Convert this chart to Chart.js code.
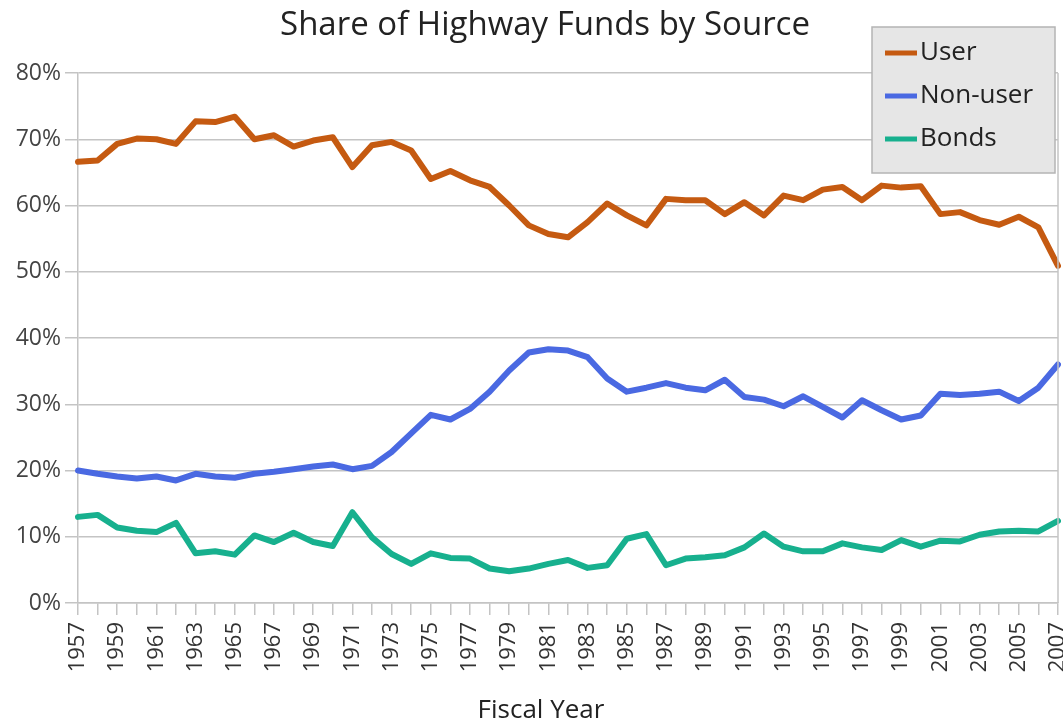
<!DOCTYPE html>
<html><head><meta charset="utf-8">
<script src="https://cdn.jsdelivr.net/npm/chart.js@4/dist/chart.umd.min.js"></script>
<style>html,body{margin:0;padding:0;background:#fff}#wrap{width:1063px;height:725px}</style>
</head><body><div id="wrap"><canvas id="c" width="1063" height="725"></canvas></div>
<script>
const years = [];
for (let y = 1957; y <= 2007; y++) years.push(String(y));
const userShare = [66.6,66.8,69.3,70.1,70.0,69.3,72.7,72.6,73.4,70.0,70.6,68.9,69.8,70.3,65.8,69.1,69.6,68.3,64.0,65.2,63.8,62.8,60.0,57.0,55.7,55.2,57.5,60.3,58.5,57.0,61.0,60.8,60.8,58.7,60.5,58.5,61.5,60.8,62.4,62.8,60.8,63.0,62.7,62.9,58.7,59.0,57.8,57.1,58.3,56.7,50.9];
const nonUserShare = [20.0,19.5,19.1,18.8,19.1,18.5,19.5,19.1,18.9,19.5,19.8,20.2,20.6,20.9,20.2,20.7,22.8,25.6,28.4,27.7,29.3,31.9,35.1,37.8,38.3,38.1,37.1,33.9,31.9,32.5,33.2,32.5,32.1,33.7,31.1,30.7,29.7,31.2,29.6,28.0,30.6,29.1,27.7,28.3,31.6,31.4,31.6,31.9,30.5,32.5,36.0];
const bondsShare = [13.0,13.3,11.4,10.9,10.7,12.1,7.5,7.8,7.3,10.2,9.2,10.6,9.2,8.6,13.7,9.9,7.4,5.9,7.5,6.8,6.7,5.2,4.8,5.2,5.9,6.5,5.3,5.7,9.7,10.4,5.7,6.7,6.9,7.2,8.4,10.5,8.5,7.8,7.8,9.0,8.4,8.0,9.5,8.5,9.4,9.3,10.3,10.8,10.9,10.8,12.4];
const seriesNames = ["User","Non-user","Bonds"];
const yTicks = [0,10,20,30,40,50,60,70,80];
const chartTitle = 'Share of Highway Funds by Source';
const xTitle = 'Fiscal Year';

const FONT = "'Open Sans', sans-serif";
const colors = ["#C55A11","#4A69E2","#17B08E"];

const decorations = {
  id: 'decorations',
  afterDraw(chart) {
    const ctx = chart.ctx;
    const ca = chart.chartArea;
    ctx.save();
    // titles
    ctx.fillStyle = '#222';
    ctx.font = "33px " + FONT;
    ctx.textAlign = 'center';
    ctx.textBaseline = 'middle';
    ctx.fillText(chartTitle, 545, 26);
    ctx.font = "26px " + FONT;
    ctx.fillText(xTitle, 541, 711);
    // right border of plot area
    ctx.strokeStyle = '#c4c4c4';
    ctx.lineWidth = 1.5;
    ctx.beginPath(); ctx.moveTo(ca.right, ca.top); ctx.lineTo(ca.right, ca.bottom); ctx.stroke();
    // legend
    const x = ca.right - 186, y = 27, w = 183, h = 146;
    ctx.fillStyle = '#e6e6e6';
    ctx.fillRect(x, y, w, h);
    ctx.strokeStyle = '#b4b4b4';
    ctx.lineWidth = 1.5;
    ctx.strokeRect(x, y, w, h);
    ctx.font = "26px " + FONT;
    ctx.textAlign = 'left';
    chart.data.datasets.forEach((ds, i) => {
      const cy = y + 26 + i * 43;
      ctx.strokeStyle = ds.borderColor;
      ctx.lineWidth = 5;
      ctx.beginPath(); ctx.moveTo(x + 13, cy); ctx.lineTo(x + 45, cy); ctx.stroke();
      ctx.fillStyle = '#222';
      ctx.fillText(ds.label, x + 48, cy);
    });
    ctx.restore();
  }
};

new Chart(document.getElementById('c'), {
  type: 'line',
  data: {
    labels: years,
    datasets: [userShare, nonUserShare, bondsShare].map((d, i) => ({
      label: seriesNames[i], data: d, borderColor: colors[i], backgroundColor: colors[i],
      borderWidth: 6, pointRadius: 0, tension: 0, borderJoinStyle: 'round', borderCapStyle: 'round'
    }))
  },
  options: {
    responsive: false, animation: false,
    layout: { padding: { left: 0, right: 5, top: 73, bottom: 0 } },
    plugins: {
      legend: { display: false },
      tooltip: { enabled: false },
      title: { display: false }
    },
    scales: {
      x: {
        offset: false,
        grid: { drawOnChartArea: false, drawTicks: true, tickLength: 12, color: '#c4c4c4', lineWidth: 1.5, offset: false },
        border: { color: '#c4c4c4', width: 1.5 },
        ticks: { autoSkip: false, maxRotation: 90, minRotation: 90, padding: 7, color: '#333',
          font: { family: FONT, size: 22 },
          callback: function(v, i) { return i % 2 === 0 ? this.getLabelForValue(v) : ''; } },
        title: { display: false },
        afterFit: s => { s.height = 122; s.paddingRight = 0; s.paddingLeft = 0; }
      },
      y: {
        min: 0, max: 80,
        afterBuildTicks: s => { s.ticks = yTicks.map(v => ({ value: v })); },
        grid: { color: '#c4c4c4', lineWidth: 1.5, tickLength: 13 },
        border: { color: '#c4c4c4', width: 1.5 },
        ticks: { color: '#444', padding: 4, font: { family: FONT, size: 23 }, callback: v => v + '%' },
        afterFit: s => { s.width = 78; s.paddingTop = 0; }
      }
    }
  },
  plugins: [decorations]
});
</script></body></html>
